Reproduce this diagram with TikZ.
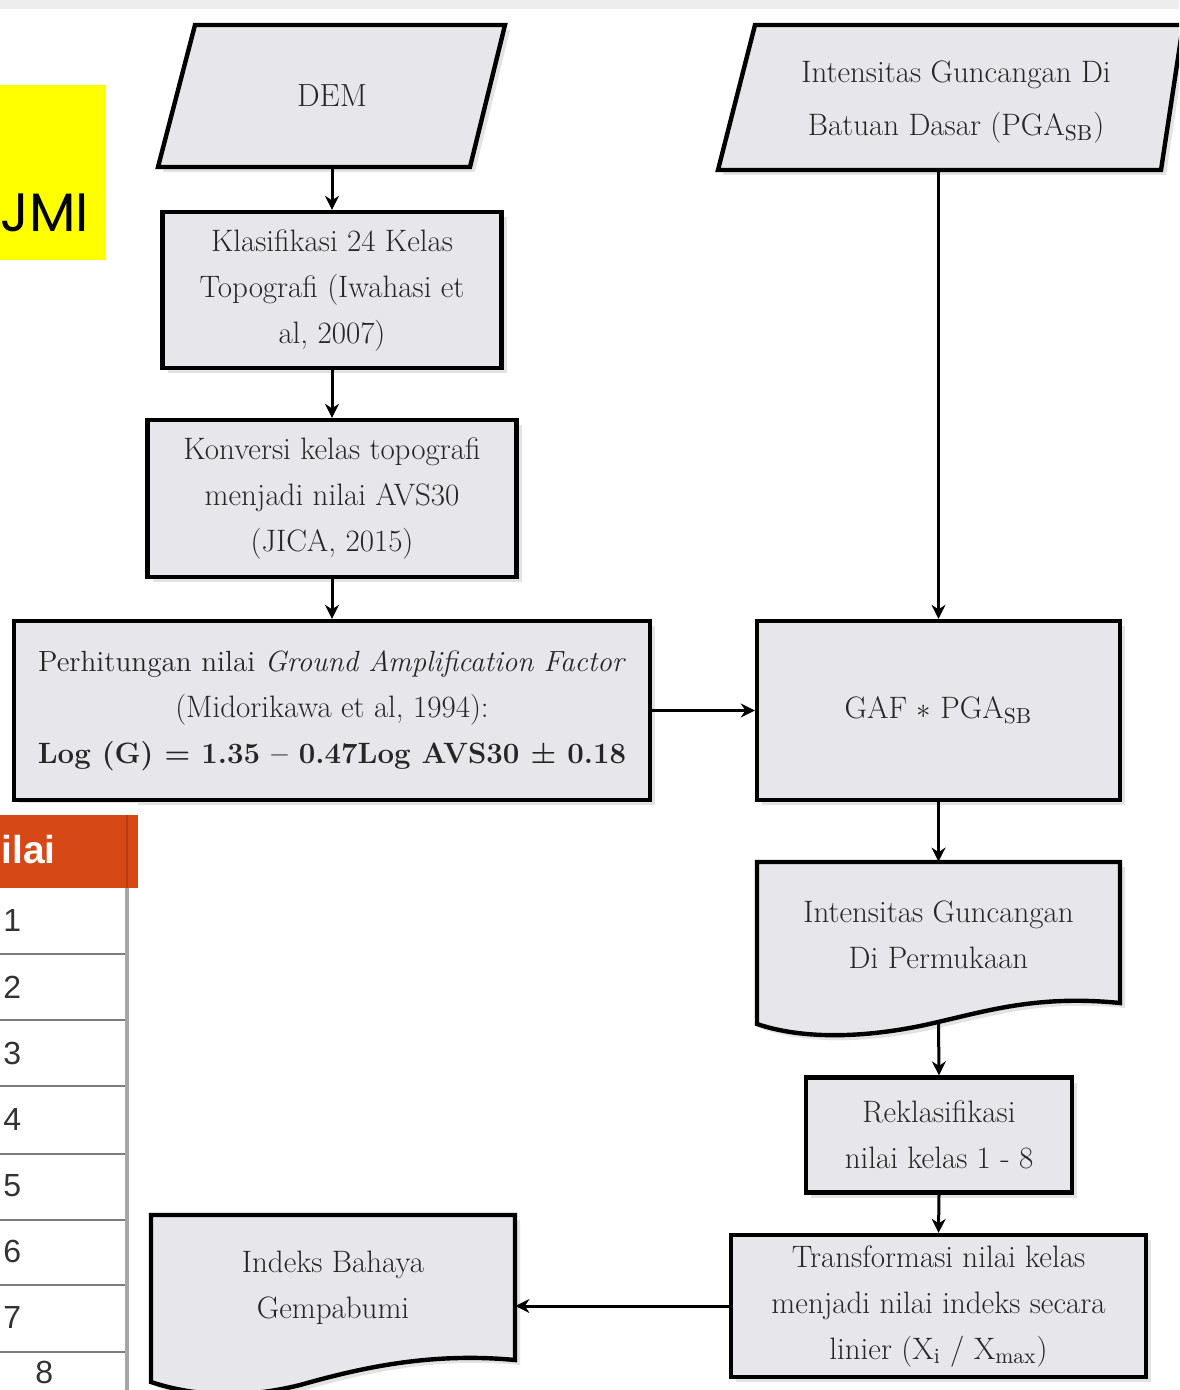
\documentclass[tikz,border=0pt]{standalone}
\usepackage{fontspec}
\newfontfamily\sansA{Liberation Sans}
\newfontfamily\geo{Poppins}
\usetikzlibrary{arrows.meta,shadows}
\definecolor{boxfill}{RGB}{231,231,235}
\definecolor{txt}{RGB}{38,38,38}
\definecolor{hdr}{RGB}{214,72,22}
\definecolor{yel}{RGB}{255,255,0}
\definecolor{rulegray}{RGB}{125,125,125}
\begin{document}
\begin{tikzpicture}[x=0.5pt,y=-0.5pt,
  shapebord/.style={draw=black, line width=2.2pt, fill=boxfill,
    drop shadow={opacity=0.22,shadow xshift=2.5pt,shadow yshift=-2.5pt}},
  lbl/.style={text=txt, align=center, inner sep=0pt, font=\fontsize{15.5}{23}\selectfont},
  rbox/.style={shapebord, lbl, rectangle},
  arr/.style={line width=1.5pt, -{Stealth[length=7pt,width=7pt]}},
  digit/.style={anchor=base west, inner sep=0pt, text=black!80, font=\sansA\fontsize{16}{16}\selectfont},
]
\clip (0,0) rectangle (1179,1390);
\fill[white] (0,0) rectangle (1179,1390);
\fill[black!7] (0,0) rectangle (1179,9);

% ---------- yellow label ----------
\fill[yel] (0,85) rectangle (106,260);
\node[anchor=base west, inner sep=0pt, font=\geo\fontsize{27}{27}\selectfont] (umi) at (0,232) {JMI};

% ---------- left column ----------
\draw[shapebord] (195,25) -- (505,25) -- (470,167) -- (158,167) -- cycle;
\node[lbl, minimum width=150pt, minimum height=71pt, font=\fontsize{16}{23}\selectfont] (dem) at (332,96) {DEM};

\node[rbox, minimum width=169.5pt, minimum height=78pt] (klas) at (332,290)
  {Klasifikasi 24 Kelas\\Topografi (Iwahasi et\\al, 2007)};

\node[rbox, minimum width=184.5pt, minimum height=78.5pt] (konv) at (332,498.5)
  {Konversi kelas topografi\\menjadi nilai AVS30\\(JICA, 2015)};

\node[rbox, minimum width=318pt, minimum height=89.5pt] (perh) at (332,710.5)
  {{\fontsize{14.6}{23}\selectfont Perhitungan nilai \textit{Ground Amplification Factor}}\\(Midorikawa et al, 1994):\\{\fontsize{14.7}{23}\selectfont\bfseries Log (G) = 1.35 -- 0.47Log AVS30 ± 0.18}};

% ---------- right column ----------
\draw[shapebord] (755,25) -- (1183,25) -- (1161,170) -- (718,170) -- cycle;
\node[lbl, minimum width=200pt, minimum height=68pt, font=\fontsize{15.5}{26.5}\selectfont] (pga) at (956,102)
  {Intensitas Guncangan Di\\Batuan Dasar (PGA\textsubscript{SB})};

\node[rbox, minimum width=181.5pt, minimum height=89.5pt] (gaf) at (938.5,710.5)
  {GAF $*$ PGA\textsubscript{SB}};

\draw[shapebord] (757,862) -- (1120,862) -- (1120,1003)
  .. controls (1040,995) and (990,1010) .. (938,1022)
  .. controls (880,1036) and (810,1042) .. (757,1024) -- cycle;
\node[lbl, minimum width=181.5pt, minimum height=73pt] (surf) at (938.5,935)
  {Intensitas Guncangan\\Di Permukaan};
\coordinate (surfb) at (938.5,1022);

\node[rbox, minimum width=133pt, minimum height=57.5pt] (rekl) at (939,1135)
  {Reklasifikasi\\nilai kelas 1 - 8};

\node[rbox, minimum width=207.5pt, minimum height=71pt] (trans) at (938.5,1306)
  {Transformasi nilai kelas\\menjadi nilai indeks secara\\linier (X\textsubscript{i} / X\textsubscript{max})};

\draw[shapebord] (151,1215) -- (515,1215) -- (515,1360)
  .. controls (430,1352) and (360,1368) .. (300,1385)
  .. controls (240,1400) and (190,1395) .. (151,1382) -- cycle;
\node[lbl, minimum width=182pt, minimum height=72pt] (idx) at (333,1288)
  {Indeks Bahaya\\Gempabumi};

% ---------- connectors ----------
\draw[arr] (dem.south) -- (klas.north);
\draw[arr] (klas.south) -- (konv.north);
\draw[arr] (konv.south) -- (perh.north);
\draw[arr] (perh.east) -- (gaf.west);
\draw[arr] (pga.south -| gaf.north) -- (gaf.north);
\draw[arr] (gaf.south) -- (surf.north);
\draw[arr] (surfb) -- (rekl.north);
\draw[arr] (rekl.south) -- (trans.north);
\draw[arr] (trans.west) -- (trans.west -| idx.east);

% ---------- table fragment ----------
\fill[white] (0,803) rectangle (138,1390);
\fill[hdr] (0,815) rectangle (138,888);
\draw[hdr!85!black, line width=1pt] (127,815) -- (127,888);
\node[anchor=base west, inner sep=0pt, text=white, font=\sansA\bfseries\fontsize{19.5}{20}\selectfont] (hd) at (1,863) {ilai};
\foreach \yy in {954,1020,1086,1154,1220,1285,1352}
  \draw[rulegray, line width=1.2pt] (0,\yy) -- (127,\yy);
\draw[black!35, line width=2pt] (127,888) -- (127,1390);
\node[digit] (d1) at (3,931) {1};
\node[digit] (d2) at (3,998) {2};
\node[digit] (d3) at (3,1064) {3};
\node[digit] (d4) at (3,1130) {4};
\node[digit] (d5) at (3,1196) {5};
\node[digit] (d6) at (3,1262) {6};
\node[digit] (d7) at (3,1328) {7};
\node[digit] (d8) at (35,1383) {8};
\end{tikzpicture}
\end{document}
